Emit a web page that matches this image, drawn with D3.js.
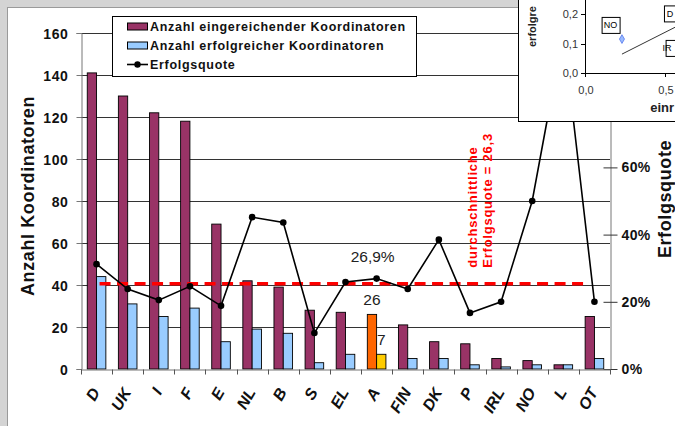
<!DOCTYPE html>
<html><head><meta charset="utf-8">
<script src="https://cdn.jsdelivr.net/npm/d3@7"></script>
<style>
html,body{margin:0;padding:0;background:#fff;}
svg{display:block;font-family:Arial,"Liberation Sans",sans-serif;}
</style></head>
<body>
<svg id="chart" width="675" height="426"></svg>
<script>
// ---- data ----
const categories = ["D","UK","I","F","E","NL","B","S","EL","A","FIN","DK","P","IRL","NO","L","OT"];
const submitted  = [141,130,122,118,69,42,39,28,27,26,21,13,12,5,4,2,25];
const successful = [44,31,25,29,13,19,17,3,7,7,5,5,2,1,2,2,5];
const successRate = [31.2,23.8,20.5,24.6,18.8,45.2,43.6,10.7,25.9,26.9,23.8,38.5,16.7,20.0,50.0,100.0,20.0];
const leftTicks = [0,20,40,60,80,100,120,140,160];
const rightTicks = [0,20,40,60,80,100];
const rightTickLabels = ["0%","20%","40%","60%","80%","100%"];
const highlightCategory = "A";
const avgLineValue = 25.4;           // position
const avgLabel = ["durchschnittliche","Erfolgsquote = 26,3"];
const seriesNames = ["Anzahl eingereichender Koordinatoren","Anzahl erfolgreicher Koordinatoren","Erfolgsquote"];
// inset (partially visible second chart)
const insetYTicks = [0,0.1,0.2];
const insetYLabels = ["0,0","0,1","0,2"];
const insetXTicks = [0,0.5];
const insetXLabels = ["0,0","0,5"];
const insetPoints = [{x:0.231,y:0.115}];
const insetBoxes = [{t:"NO",x:0.160,y:0.163},{t:"D",x:0.531,y:0.202},{t:"IR",x:0.56,y:0.085}];
const insetTrend = [{x:0.231,y:0.064},{x:0.57,y:0.157}];
const insetTitles = ["einr","erfolgre"];

const colors = {sub:"#993366", suc:"#99ccff", subHi:"#ff6600", sucHi:"#ffcc00"};

const svg = d3.select("#chart");
const W = 675, H = 426;

// frame
svg.append("rect").attr("x",0).attr("y",0).attr("width",W).attr("height",H).attr("fill","#d4d4d4");
svg.append("rect").attr("x",7.5).attr("y",7.5).attr("width",W).attr("height",H).attr("fill","#fff").attr("stroke","#9a9a9a");

const L = 81, R = 610, T = 33, B = 369;
const x = d3.scaleBand().domain(categories).range([L,R]).paddingInner(0).paddingOuter(0);
const xi = d3.scaleBand().domain([0,1]).range([0,x.bandwidth()]).paddingInner(0).paddingOuter(0.673);
const yL = d3.scaleLinear().domain([0,160]).range([B,T]);
const yR = d3.scaleLinear().domain([0,100]).range([B,T]);

// gridlines
svg.append("g").selectAll("line").data(leftTicks.filter(d=>d>0)).join("line")
  .attr("x1",L).attr("x2",R).attr("y1",d=>Math.round(yL(d))+0.5).attr("y2",d=>Math.round(yL(d))+0.5)
  .attr("stroke","#333").attr("stroke-width",1);

// bars
const gBars = svg.append("g");
categories.forEach((c,i)=>{
  const hi = c===highlightCategory;
  [[submitted[i], hi?colors.subHi:colors.sub],[successful[i], hi?colors.sucHi:colors.suc]].forEach(([v,col],k)=>{
    gBars.append("rect")
      .attr("x", x(c)+xi(k)).attr("y", yL(v))
      .attr("width", xi.bandwidth()).attr("height", yL(0)-yL(v))
      .attr("fill", col).attr("stroke","#000").attr("stroke-width",0.9);
  });
});

// left axis
const axL = svg.append("g").attr("transform",`translate(${L+0.5},0)`)
  .call(d3.axisLeft(yL).tickValues(leftTicks).tickSize(5).tickPadding(8).tickFormat(d3.format("d")));
axL.select(".domain").attr("stroke","#777");
axL.selectAll(".tick line").attr("stroke","#777");
axL.selectAll("text").attr("font-size",14).attr("font-weight","bold").attr("fill","#111").attr("letter-spacing",0.6).attr("dy","0.36em");

// right axis (cross ticks)
const axR = svg.append("g").attr("transform",`translate(${R+0.5},0)`)
  .call(d3.axisRight(yR).tickValues(rightTicks).tickSize(0).tickPadding(11).tickFormat((d,i)=>rightTickLabels[i]));
axR.select(".domain").attr("stroke","#777");
axR.selectAll(".tick").append("line").attr("x1",-7).attr("x2",7).attr("stroke","#333");
axR.selectAll("text").attr("font-size",14).attr("font-weight","bold").attr("fill","#111").attr("letter-spacing",0.4);

// bottom axis
const axB = svg.append("g").attr("transform",`translate(0,${B+0.5})`)
  .call(d3.axisBottom(x).tickSize(0).tickFormat(""));
axB.select(".domain").attr("stroke","#777");
axB.selectAll(".tick").remove();
axB.selectAll("line.bt").data(categories.concat(["_end"])).join("line")
  .attr("x1",(d,i)=>Math.round(L+i*x.step())+0.5).attr("x2",(d,i)=>Math.round(L+i*x.step())+0.5)
  .attr("y1",0).attr("y2",5).attr("stroke","#555");
svg.append("g").selectAll("text").data(categories).join("text")
  .attr("transform",d=>`translate(${x(d)+x.bandwidth()/2+4},${B+23}) rotate(-60)`)
  .attr("text-anchor","end").attr("font-size",16).attr("font-weight","bold").attr("font-style","italic").attr("fill","#111")
  .text(d=>d);

// average dashed line
svg.append("line").attr("x1",x(categories[0])+x.bandwidth()/2+3).attr("x2",x(categories[categories.length-1])+x.bandwidth()/2-6)
  .attr("y1",yR(avgLineValue)).attr("y2",yR(avgLineValue))
  .attr("stroke","#ff0000").attr("stroke-width",3.5).attr("stroke-dasharray","11,6.5");

// success rate line
const line = d3.line().x((d,i)=>x(categories[i])+x.bandwidth()/2).y(d=>yR(d));
svg.append("path").datum(successRate).attr("d",line).attr("fill","none").attr("stroke","#000").attr("stroke-width",1.6);
svg.append("g").selectAll("circle").data(successRate).join("circle")
  .attr("cx",(d,i)=>x(categories[i])+x.bandwidth()/2).attr("cy",d=>yR(d)).attr("r",3.3).attr("fill","#000");

// data labels for highlight
const hiIdx = categories.indexOf(highlightCategory);
const hx = x(highlightCategory);
svg.append("text").attr("x",hx+x.bandwidth()/2-4).attr("y",yR(successRate[hiIdx])-17)
  .attr("text-anchor","middle").attr("font-size",15.5).attr("fill","#222")
  .text(d3.format(".1f")(successRate[hiIdx]).replace(".",",")+"%");
svg.append("text").attr("x",hx+xi(0)+xi.bandwidth()/2).attr("y",yL(submitted[hiIdx])-9)
  .attr("text-anchor","middle").attr("font-size",15.5).attr("fill","#222").text(submitted[hiIdx]);
svg.append("text").attr("x",hx+xi(1)+xi.bandwidth()/2).attr("y",yL(successful[hiIdx])-9)
  .attr("text-anchor","middle").attr("font-size",15.5).attr("fill","#222").text(successful[hiIdx]);

// average label (rotated red)
avgLabel.forEach((t,i)=>{
  svg.append("text").attr("transform",`translate(${477+i*15},${yR(avgLineValue)-16}) rotate(-90)`)
    .attr("font-size",13).attr("font-weight","bold").attr("fill","#ff0000").attr("letter-spacing",0.75).text(t);
});

// axis titles
svg.append("text").attr("transform",`translate(34,196) rotate(-90)`)
  .attr("text-anchor","middle").attr("font-size",18).attr("font-weight","bold").attr("letter-spacing",0.6).attr("fill","#111")
  .text("Anzahl Koordinatoren");
svg.append("text").attr("transform",`translate(671,199) rotate(-90)`)
  .attr("text-anchor","middle").attr("font-size",18).attr("font-weight","bold").attr("letter-spacing",0.6).attr("fill","#111")
  .text("Erfolgsquote");

// legend
const lg = svg.append("g");
lg.append("rect").attr("x",112.5).attr("y",16.5).attr("width",304).attr("height",60).attr("fill","#fff").attr("stroke","#000");
const rowsY = [26.5,45.5,64.5];
lg.append("rect").attr("x",127.5).attr("y",rowsY[0]-3.5).attr("width",20).attr("height",7).attr("fill",colors.sub).attr("stroke","#000");
lg.append("rect").attr("x",127.5).attr("y",rowsY[1]-3.5).attr("width",20).attr("height",7).attr("fill",colors.suc).attr("stroke","#000");
lg.append("line").attr("x1",127).attr("x2",148).attr("y1",rowsY[2]).attr("y2",rowsY[2]).attr("stroke","#000").attr("stroke-width",1.6);
lg.append("circle").attr("cx",137.5).attr("cy",rowsY[2]).attr("r",3.2).attr("fill","#000");
lg.selectAll("text").data(seriesNames).join("text")
  .attr("x",150).attr("y",(d,i)=>rowsY[i]+4.5).attr("font-size",12.5).attr("font-weight","bold").attr("letter-spacing",0.7).attr("fill","#111")
  .text(d=>d);

// inset (overlapping second chart)
const ins = svg.append("g");
ins.append("rect").attr("x",518.5).attr("y",-2).attr("width",170).attr("height",123.5).attr("fill","#fff").attr("stroke","#000");
const ix = d3.scaleLinear().domain([0,0.5]).range([585,665]);
const iy = d3.scaleLinear().domain([0,0.2]).range([73,14]);
ins.append("line").attr("x1",ix(0)+0.5).attr("x2",ix(0)+0.5).attr("y1",0).attr("y2",iy(0)).attr("stroke","#000");
ins.append("line").attr("x1",ix(0)).attr("x2",676).attr("y1",iy(0)+0.5).attr("y2",iy(0)+0.5).attr("stroke","#000");
ins.selectAll("line.yt").data(insetYTicks).join("line").attr("class","yt")
  .attr("x1",ix(0)-4).attr("x2",ix(0)).attr("y1",d=>Math.round(iy(d))+0.5).attr("y2",d=>Math.round(iy(d))+0.5).attr("stroke","#000");
ins.selectAll("line.xt").data(insetXTicks).join("line").attr("class","xt")
  .attr("x1",d=>Math.round(ix(d))+0.5).attr("x2",d=>Math.round(ix(d))+0.5).attr("y1",iy(0)).attr("y2",iy(0)+4).attr("stroke","#000");
ins.selectAll("text.yl").data(insetYTicks).join("text").attr("class","yl")
  .attr("x",ix(0)-7).attr("y",d=>iy(d)+4).attr("text-anchor","end").attr("font-size",11).attr("fill","#333")
  .text((d,i)=>insetYLabels[i]);
ins.selectAll("text.xl").data(insetXTicks).join("text").attr("class","xl")
  .attr("x",d=>ix(d)+1).attr("y",iy(0)+21).attr("text-anchor","middle").attr("font-size",11).attr("fill","#333")
  .text((d,i)=>insetXLabels[i]);
ins.append("text").attr("x",674).attr("y",112).attr("text-anchor","end").attr("font-size",13).attr("font-weight","bold").attr("fill","#222").text(insetTitles[0]);
ins.append("text").attr("transform","translate(536,47) rotate(-90)").attr("font-size",11).attr("font-weight","bold").attr("fill","#222").text(insetTitles[1]);
ins.append("path").datum(insetTrend).attr("d",d3.line().x(d=>ix(d.x)).y(d=>iy(d.y))).attr("stroke","#000").attr("stroke-width",0.8).attr("fill","none");
ins.selectAll("path.pt").data(insetPoints).join("path").attr("class","pt")
  .attr("d",d3.symbol(d3.symbolDiamond,22)).attr("transform",d=>`translate(${ix(d.x)},${iy(d.y)})`)
  .attr("fill","#99bbff").attr("stroke","#5577ee").attr("stroke-width",0.8);
insetBoxes.forEach(b=>{
  const g = ins.append("g");
  const w = b.t.length*6+6;
  g.append("rect").attr("x",ix(b.x)-w/2+0.5).attr("y",iy(b.y)-8+0.5).attr("width",w).attr("height",16).attr("fill","#fff").attr("stroke","#000");
  const maxX = 673;
  const cx = Math.min(ix(b.x), maxX - b.t.length*3);
  g.append("text").attr("x",cx).attr("y",iy(b.y)+3.5).attr("text-anchor","middle").attr("font-size",9).attr("fill","#000").text(b.t);
});
</script>
</body></html>
